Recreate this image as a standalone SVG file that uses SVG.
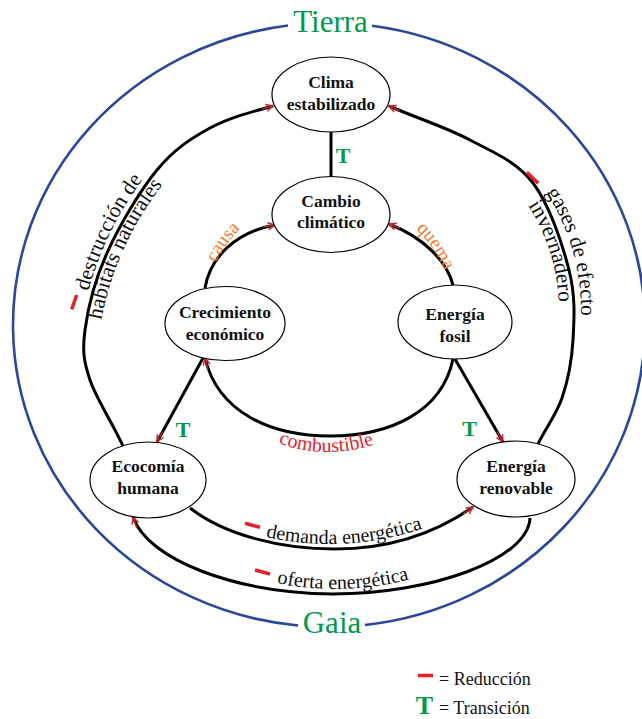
<svg xmlns="http://www.w3.org/2000/svg" width="642" height="719" viewBox="0 0 642 719" font-family="'Liberation Serif', 'Times New Roman', serif">
<style>
text{font-family:'Liberation Serif','Times New Roman',serif}
.node ellipse{fill:#fff;stroke:#000;stroke-width:1.2}
.node text{font-weight:bold;font-size:17.5px;text-anchor:middle;fill:#111}
.conn path,.conn line{fill:none;stroke:#000;stroke-width:3}
.arr{marker-end:url(#arrow)}
.lbl{font-size:21.5px;fill:#111}
.lbl2{font-size:20px;fill:#111}
.orange{font-size:19px;fill:#f47a30}
.red{fill:#e6212a}
.tt{font-weight:bold;font-size:22px;fill:#00994d;text-anchor:middle}
.big{font-size:31px;fill:#00994d;text-anchor:middle}
.minus{stroke:#e6212a;stroke-width:3.5;fill:none}
.leg{font-size:18px;fill:#111}
</style>
<defs>
<marker id="arrow" viewBox="-14 -5 16 10" markerWidth="16" markerHeight="10" refX="0" refY="0" orient="auto" markerUnits="userSpaceOnUse">
<path d="M-12,0 L0,0 M-7,-3.5 L0,0 L-7,3.5" fill="none" stroke="#c1272d" stroke-width="1.4"/>
</marker>
<path id="pDestr" d="M95.2,485 A330,330 0 0 1 299,65.2"/>
<path id="pHabit" d="M115.9,486.4 A311,311 0 0 1 297.6,85.9"/>
<path id="pGases" d="M470.9,122.3 A215,215 0 0 1 553.7,414.9"/>
<path id="pInver" d="M454.8,138.7 A193,193 0 0 1 537.3,398.8"/>
<path id="pDemanda" d="M134.7,469.6 A291,291 0 0 0 545.6,447.3"/>
<path id="pOferta" d="M136.7,510.2 A289,289 0 0 0 545,498.6"/>
<path id="pComb" d="M226.2,409 A142,142 0 0 0 427,411.8"/>
<path id="pCausa" d="M203.6,340 A128,128 0 0 1 310,193.6"/>
<path id="pQuema" d="M351.7,196.9 A125,125 0 0 1 453.1,341.7"/>
</defs>
<rect width="642" height="719" fill="#fff"/>

<g id="gaia-frame">
<path d="M288,25.55 A316,302 0 0 0 298,625.54" fill="none" stroke="#2b479b" stroke-width="2.6"/>
<path d="M372,25.81 A316,302 0 0 1 365,625.03" fill="none" stroke="#2b479b" stroke-width="2.6"/>
<text class="big" x="330.5" y="32">Tierra</text>
<text class="big" x="332" y="633">Gaia</text>
</g>

<g id="connectors" class="conn">
<path class="arr" d="M123,446 C112,422 96.3,398.8 90,380 C83.7,361.2 82.2,351.2 85,330 C87.8,308.8 95,279.7 107,253 C119,226.3 139.8,190.8 157,170 C174.2,149.2 190.8,138.5 210,128 C229.2,117.5 251.3,112 273,106"/>
<path class="arr" d="M538,444 C546,427.3 556.2,415 562,398 C567.8,381 571.8,361.3 573,340 C574.2,318.7 575.7,296.2 569,270 C562.3,243.8 549.5,204.7 533,183 C516.5,161.3 493.8,152.7 470,140 C446.2,127.3 416.7,118 389,106"/>
<line x1="331" y1="177" x2="331" y2="132"/>
<path class="arr" d="M205,288 C210,258 235,232 275,225"/>
<path class="arr" d="M453,285 C447,262 425,238 389,224"/>
<path class="arr" d="M453,359 C442,412 390,436 330,436 C270,436 218,412 205,358"/>
<line class="arr" x1="203" y1="358" x2="157" y2="442"/>
<line class="arr" x1="455" y1="359" x2="503" y2="442"/>
<path class="arr" d="M190,508 C225,535 280,549 335,549 C395,549 440,530 473,507"/>
<path class="arr" d="M530,518 C528,560 430,594 333,594 C235,593 148,560 133,517"/>
</g>

<g id="connector-labels">
<text class="tt" x="343" y="163">T</text>
<text class="tt" x="183" y="437">T</text>
<text class="tt" x="469.5" y="436">T</text>
<text class="orange"><textPath href="#pCausa" startOffset="50%" text-anchor="middle">causa</textPath></text>
<text class="orange"><textPath href="#pQuema" startOffset="50%" text-anchor="middle">quema</textPath></text>
<text class="lbl2 red"><textPath href="#pComb" startOffset="50%" text-anchor="middle" class="red">combustible</textPath></text>
<text class="lbl"><textPath href="#pDestr" startOffset="50%" text-anchor="middle">destrucción de</textPath></text>
<text class="lbl"><textPath href="#pHabit" startOffset="50%" text-anchor="middle">habitats naturales</textPath></text>
<text class="lbl"><textPath href="#pGases" startOffset="50%" text-anchor="middle">gases de efecto</textPath></text>
<text class="lbl"><textPath href="#pInver" startOffset="50%" text-anchor="middle">invernadero</textPath></text>
<text class="lbl2"><textPath href="#pDemanda" startOffset="50%" text-anchor="middle">demanda energética</textPath></text>
<text class="lbl2"><textPath href="#pOferta" startOffset="50%" text-anchor="middle">oferta energética</textPath></text>
<line class="minus" x1="71.7" y1="309.3" x2="76.7" y2="295"/>
<line class="minus" x1="526.7" y1="172.3" x2="538.3" y2="183.3"/>
<line class="minus" x1="245" y1="523.3" x2="260" y2="527.3"/>
<line class="minus" x1="255" y1="570" x2="270" y2="574"/>
</g>

<g id="clima" class="node">
<ellipse cx="331" cy="94.5" rx="59" ry="37.5"/>
<text x="331" y="88">Clima</text>
<text x="331" y="110">estabilizado</text>
</g>
<g id="cambio" class="node">
<ellipse cx="331" cy="214.5" rx="59" ry="38"/>
<text x="331" y="207">Cambio</text>
<text x="331" y="228">climático</text>
</g>
<g id="crecimiento" class="node">
<ellipse cx="225" cy="323.5" rx="60" ry="37"/>
<text x="225" y="318">Crecimiento</text>
<text x="225" y="340">económico</text>
</g>
<g id="fosil" class="node">
<ellipse cx="455" cy="322" rx="57" ry="37"/>
<text x="455" y="320">Energía</text>
<text x="455" y="342">fosil</text>
</g>
<g id="economia" class="node">
<ellipse cx="148" cy="480" rx="58" ry="38"/>
<text x="148" y="472">Ecocomía</text>
<text x="148" y="494">humana</text>
</g>
<g id="renovable" class="node">
<ellipse cx="516" cy="479" rx="59" ry="38"/>
<text x="516" y="472">Energía</text>
<text x="516" y="494">renovable</text>
</g>

<g id="legend">
<line class="minus" x1="418" y1="675.5" x2="433" y2="675.5"/>
<text class="leg" x="439" y="685">= Reducción</text>
<text class="tt" x="424.5" y="714" style="font-size:26px">T</text>
<text class="leg" x="439" y="714">= Transición</text>
</g>
</svg>
